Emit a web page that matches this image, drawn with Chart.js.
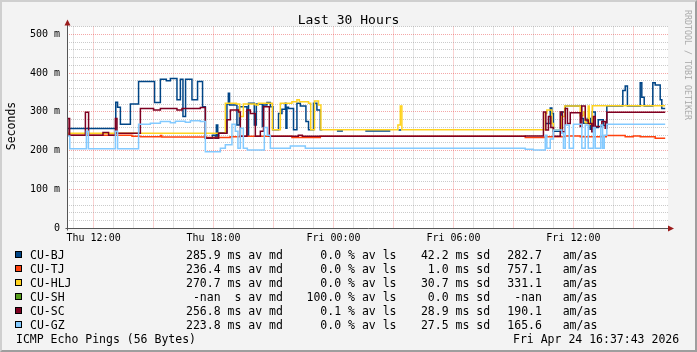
<!DOCTYPE html>
<html>
<head>
<meta charset="utf-8">
<script src="https://cdn.jsdelivr.net/npm/chart.js@4/dist/chart.umd.min.js"></script>
<style>
  html, body { margin: 0; padding: 0; background: #f3f3f3; }
  #wrap { position: relative; width: 697px; height: 352px; overflow: hidden;
          font-family: "DejaVu Sans Mono", monospace; color: #000; }
  #frame { position: absolute; left: 0; top: 0; width: 697px; height: 352px; box-sizing: border-box;
           border-top: 2px solid #cfcfcf; border-left: 2px solid #cfcfcf;
           border-right: 2px solid #9e9e9e; border-bottom: 2px solid #9e9e9e; pointer-events: none; }
  canvas { position: absolute; left: 0; top: 0; }
  .t { position: absolute; white-space: pre; font-size: 11.5px; line-height: 14px; }
  .box { position: absolute; width: 7px; height: 7px; box-sizing: border-box; border: 1px solid #000; }
</style>
</head>
<body>
<div id="wrap">
  <canvas id="chart" width="697" height="352"></canvas>
  <div class="t" style="left:0;top:11.5px;width:697px;text-align:center;font-size:13px;line-height:16px">Last 30 Hours</div>
  <div class="t" style="left:-39.5px;top:119px;width:100px;text-align:center;transform:rotate(-90deg)">Seconds</div>
  <div class="t" style="left:637.5px;top:53px;width:100px;text-align:center;font-size:8.3px;color:#aaa;transform:rotate(90deg)">RRDTOOL / TOBI OETIKER</div>
  <div id="legend"></div>
  <div id="frame"></div>
</div>
<script>
// hours since Thu 00:00, values in ms (null = no data)
const bjHours = [10.67, 13.11, 13.2, 13.34, 13.84, 14.25, 15.05, 15.34, 15.64, 15.84, 16.17, 16.34, 16.47, 16.6, 16.92, 17.2, 17.45,
  17.59, 17.94, 18.09, 18.14, 18.21, 18.25, 18.67, 18.74, 18.8, 19.17, 19.29, 19.67, 19.75, 20.04, 20.14, 20.44, 20.5, 20.67,
  20.84, 20.97, 21.25, 21.42, 21.59, 21.62, 21.67, 21.75, 22.0, 22.17, 22.34, 22.62, 22.75, 23.0, 23.17, 23.34, 23.44,
  24.17, 24.47, 25.59, 26.84, 27.25, 27.39, 34.59, 34.84, 34.92, 35.0, 35.39, 35.59, 36.39, 36.5, 36.69, 36.84, 36.94,
  37.09, 37.24, 37.49, 37.67, 38.47, 38.59, 38.7, 39.34, 39.42, 39.54, 39.97, 40.09, 40.34, 40.42, 40.59];
const bjMs = [257, 325, 312, 268, 320, 378, 324, 384, 380, 386, 331, 384, 288, 384, 331, 378, 313,
  232, 240, 232, 266, 232, 246, 320, 348, 318, 266, 313, 240, 322, 266, 320, 262, 318, 324,
  313, 254, 296, 307, 322, 258, 312, 309, 254, 322, 315, 275, 254, 322, 305, 254, null,
  251, null, 251, null, 253, null, 270, 310, 296, 250, 300, 315, 283, 271, 283, 255, 300,
  260, 280, 265, 315, 355, 367, 315, 375, 338, 315, 375, 369, 331, 309, 309];

const tjHours = [10.67, 13.92, 14.34, 15.35, 15.41, 17.64, 18.83, 19.34, 21.92, 23.34, 33.59, 34.59, 35.59, 36.34,
  37.64, 38.59, 38.99, 39.34, 40.09, 40.59];
const tjMs = [240, 237, 236, 239, 235, 234, 236, 237, 234, 237, 234, 236, 238, 236, 239, 236, 238, 236, 232, 232];

const hljHours = [10.67, 18.59, 19.14, 19.31, 19.49, 20.09, 20.24, 20.94, 21.34, 21.92, 22.17, 22.29, 22.75, 22.86,
  23.05, 23.25, 23.37, 27.22, 27.34, 27.42, 34.59, 34.67, 34.92, 35.0, 35.42, 35.56, 36.34, 36.5, 36.59, 36.74,
  36.79, 36.94, 40.59];
const hljMs = [245, 322, 320, 288, 320, 318, 322, 254, 322, 326, 331, 326, 322, 254,
  328, 318, 254, 266, 315, 254, 296, 305, 270, 254, 288, 315, 290, 300, 272, 315,
  268, 316, 316];

const shHours = [];
const shMs = [];

const scHours = [10.67, 10.71, 10.8, 11.59, 11.75, 12.47, 12.75, 13.09, 13.17, 14.34, 15.0, 15.34, 16.17, 16.42, 17.34,
  17.59, 18.25, 18.67, 18.84, 19.25, 19.34, 19.67, 19.84, 20.09, 20.34, 20.5, 20.79, 22.24, 22.44, 33.59,
  34.5, 34.62, 34.75, 34.87, 35.0, 35.34, 35.45, 35.59, 35.7, 35.84, 36.34, 36.42, 36.59, 36.74, 36.92,
  37.0, 37.09, 37.42, 37.59, 37.67, 40.59];
const scMs = [240, 283, 240, 299, 240, 247, 240, 283, 245, 309, 305, 309, 305, 309, 311,
  233, 245, 280, 305, 300, 237, 305, 296, 237, 250, 313, 237, 240, 237, 238,
  300, 253, 288, 260, 237, 300, 249, 309, 270, 298, 262, 315, 279, 270, 249,
  288, 262, 275, 258, 299, 299];

const gzHours = [10.67, 10.81, 11.64, 11.74, 13.09, 13.2, 14.25, 14.84, 15.34, 15.84, 16.09, 16.59, 16.84, 17.34,
  17.59, 18.34, 18.59, 18.92, 19.09, 19.22, 19.34, 19.49, 19.69, 20.54, 20.69, 20.84, 21.84, 22.59, 33.59, 33.99,
  34.59, 34.67, 34.84, 35.0, 35.42, 35.5, 35.59, 35.79, 36.0, 36.42, 36.59, 36.74, 37.0, 37.09, 37.37, 37.46,
  37.54, 37.67, 40.59];
const gzMs = [238, 205, 250, 205, 250, 205, 268, 271, 275, 272, 276, 273, 277, 275,
  197, 206, 215, 268, 250, 206, 258, 206, 202, 260, 240, 206, 212, 206, 204, 202,
  240, 206, 230, 253, 245, 206, 266, 206, 268, 206, 266, 206, 260, 206, 266, 206,
  240, 268, 268];

const names = ['CU-BJ', 'CU-TJ', 'CU-HLJ', 'CU-SH', 'CU-SC', 'CU-GZ'];
const colors = ['#004586', '#ff420e', '#ffd320', '#579d1c', '#7e0021', '#83caff'];
const avgMedian = ['285.9', '236.4', '270.7', '-nan', '256.8', '223.8'];
const avgUnit = ['ms', 'ms', 'ms', 's', 'ms', 'ms'];
const avgLoss = ['0.0', '0.0', '0.0', '100.0', '0.1', '0.0'];
const stdDev = ['42.2', '1.0', '30.7', '0.0', '28.9', '27.5'];
const amAs = ['282.7', '757.1', '331.1', '-nan', '190.1', '165.6'];

const xTickHours = [12, 18, 24, 30, 36];
const xTickLabels = ['Thu 12:00', 'Thu 18:00', 'Fri 00:00', 'Fri 06:00', 'Fri 12:00'];

// turn breakpoints into points for a step line, closing each run before a gap
function steps(hours, ms) {
  const pts = [];
  for (let i = 0; i < hours.length; i++) {
    if (ms[i] === null && i > 0 && ms[i - 1] !== null) pts.push({ x: hours[i], y: ms[i - 1] });
    pts.push({ x: hours[i], y: ms[i] });
  }
  return pts;
}

const seriesHours = [bjHours, tjHours, hljHours, shHours, scHours, gzHours];
const seriesMs = [bjMs, tjMs, hljMs, shMs, scMs, gzMs];

const datasets = names.map((name, i) => ({
  label: name,
  data: steps(seriesHours[i], seriesMs[i]),
  borderColor: colors[i],
  backgroundColor: colors[i],
  borderWidth: 1.5,
  pointRadius: 0,
  stepped: 'before',
  spanGaps: false,
  order: names.length - i
}));

// legend lines under the graph
const legend = document.getElementById('legend');
function addText(left, top, text) {
  const d = document.createElement('div');
  d.className = 't';
  d.style.left = left + 'px';
  d.style.top = top + 'px';
  d.textContent = text;
  legend.appendChild(d);
}
names.forEach((name, i) => {
  const top = 248 + i * 14;
  const b = document.createElement('div');
  b.className = 'box';
  b.style.left = '15px';
  b.style.top = (top + 3) + 'px';
  b.style.background = colors[i];
  legend.appendChild(b);
  addText(30, top, name);
  addText(186, top, avgMedian[i].padStart(5) + ' ' + avgUnit[i].padStart(2) + ' av md');
  addText(306.5, top, avgLoss[i].padStart(5) + ' % av ls');
  addText(414, top, stdDev[i].padStart(5) + ' ms sd');
  addText(507.3, top, amAs[i].padStart(5) + '   am/as');
});
addText(16, 332, 'ICMP Echo Pings (56 Bytes)');
addText(513, 332, 'Fri Apr 24 16:37:43 2026');

const plotFrame = {
  id: 'plotFrame',
  beforeDraw(chart) {
    const { ctx, chartArea: a } = chart;
    ctx.save();
    ctx.fillStyle = '#ffffff';
    ctx.fillRect(a.left, a.top, a.right - a.left, a.bottom - a.top);
    ctx.restore();
  },
  afterDraw(chart) {
    const { ctx, chartArea: a } = chart;
    const x0 = Math.round(a.left) + 0.5;
    const y0 = Math.round(a.bottom) + 0.5;
    ctx.save();
    ctx.strokeStyle = '#555';
    ctx.lineWidth = 1;
    ctx.beginPath();
    ctx.moveTo(x0, y0 + 2);
    ctx.lineTo(x0, a.top - 3);
    ctx.moveTo(x0 - 2, y0);
    ctx.lineTo(a.right + 3, y0);
    ctx.stroke();
    ctx.fillStyle = '#9b1c1c';
    ctx.beginPath();
    ctx.moveTo(x0, a.top - 7);
    ctx.lineTo(x0 - 3, a.top - 1);
    ctx.lineTo(x0 + 3, a.top - 1);
    ctx.closePath();
    ctx.fill();
    ctx.beginPath();
    ctx.moveTo(a.right + 6, y0);
    ctx.lineTo(a.right, y0 - 3);
    ctx.lineTo(a.right, y0 + 3);
    ctx.closePath();
    ctx.fill();
    ctx.restore();
  }
};

const gridColor = (major) => (major ? 'rgba(230, 60, 60, 0.45)' : 'rgba(140, 140, 140, 0.45)');

new Chart(document.getElementById('chart'), {
  type: 'line',
  data: { datasets },
  plugins: [plotFrame],
  options: {
    responsive: false,
    animation: false,
    devicePixelRatio: 1,
    parsing: true,
    layout: { padding: { left: 0, right: 29, top: 26.5, bottom: 103.7 } },
    plugins: { legend: { display: false }, tooltip: { enabled: false }, title: { display: false } },
    scales: {
      x: {
        type: 'linear',
        min: 10.67,
        max: 40.73,
        afterFit: (s) => { s.height = 20; },
        border: { display: false, dash: [1, 1] },
        grid: {
          drawTicks: false,
          color: (c) => gridColor(c.tick && c.tick.value % 3 === 0)
        },
        ticks: {
          stepSize: 1,
          includeBounds: false,
          autoSkip: false,
          maxRotation: 0,
          padding: 4,
          color: '#000',
          font: { family: 'DejaVu Sans Mono', size: 10 },
          callback: (v) => {
            const k = xTickHours.indexOf(v);
            return k >= 0 ? xTickLabels[k] : '';
          }
        }
      },
      y: {
        min: 0,
        max: 520,
        afterFit: (s) => { s.width = 67; },
        border: { display: false, dash: [1, 1] },
        grid: {
          drawTicks: false,
          color: (c) => gridColor(c.tick && c.tick.value % 100 === 0)
        },
        ticks: {
          stepSize: 20,
          autoSkip: false,
          padding: 7,
          color: '#000',
          font: { family: 'DejaVu Sans Mono', size: 10 },
          callback: (v) => (v === 0 ? '0' : (v % 100 === 0 && v <= 500 ? v + ' m' : ''))
        }
      }
    }
  }
});
</script>
</body>
</html>
